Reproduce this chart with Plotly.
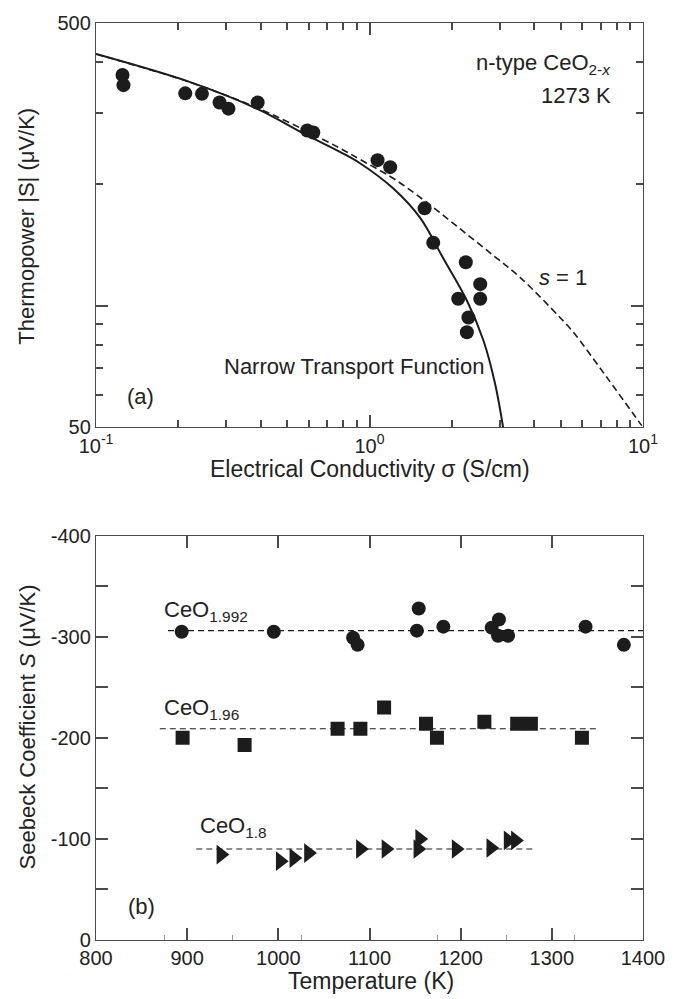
import plotly.graph_objects as go

# ---------------- data: panel (a) ----------------
sigma_pts = [0.125, 0.126, 0.212, 0.244, 0.283, 0.305, 0.390, 0.592, 0.623,
             1.07, 1.19, 1.59, 1.71, 2.25, 2.54, 2.54, 2.11, 2.30, 2.27]
S_pts = [372, 351, 335, 334, 318, 307, 318, 271, 268,
         229, 220, 174, 143, 128, 113, 104, 104, 93.5, 85.9]

narrow_sigma = [0.1, 0.221, 0.387, 0.589, 0.78, 0.923, 1.22, 1.53, 1.86, 2.27, 2.61, 2.88, 3.08]
narrow_S = [419, 357, 307, 264, 240, 225, 195, 165, 131, 103, 82, 64, 50]

s1_sigma = [0.1, 0.22, 0.39, 0.59, 0.78, 0.923, 1.22, 1.62, 2.14, 2.84, 3.55, 4.97, 5.56, 7.36, 9.89]
s1_S = [419, 357, 308, 270, 245, 230, 206.5, 180, 155, 133, 117.5, 93.5, 86, 66.6, 50.5]

# ---------------- data: panel (b) ----------------
T_1992 = [894, 995, 1082, 1087, 1154, 1152, 1181, 1234, 1242, 1241, 1252, 1337, 1379]
S_1992 = [-305, -305, -299, -292, -328, -306, -310, -309, -317, -301, -301, -310, -292]

T_196 = [895, 963, 1065, 1090, 1116, 1162, 1174, 1226, 1262, 1277, 1333]
S_196 = [-200, -193, -209, -209, -230, -214, -200, -216, -214, -214, -200]

T_18 = [937, 1002, 1017, 1033, 1090, 1118, 1153, 1155, 1195, 1233, 1252, 1260]
S_18 = [-84.5, -78, -81, -86, -90, -90, -90, -100, -90, -91, -98.5, -98.5]

fit_1992_T = [879, 1400]
fit_1992_S = [-306, -306]
fit_196_T = [870, 1350]
fit_196_S = [-209, -209]
fit_18_T = [910, 1280]
fit_18_S = [-90, -90]

# axis tick data
x_top_major = [0.1, 1, 10]
x_top_major_text = ["10<sup>-1</sup>", "10<sup>0</sup>", "10<sup>1</sup>"]
x_top_minor = [0.2, 0.3, 0.4, 0.5, 0.6, 0.7, 0.8, 0.9, 2, 3, 4, 5, 6, 7, 8, 9]
y_top_major = [50, 100, 500]
y_top_major_text = ["50", "", "500"]
y_top_minor = [60, 70, 80, 90, 200, 300, 400]

x_bot_ticks = [800, 900, 1000, 1100, 1200, 1300, 1400]
x_bot_minor = [875, 950, 1025, 1175, 1250, 1325]
y_bot_ticks = [0, -50, -100, -150, -200, -250, -300, -350, -400]
y_bot_text = ["0", "", "-100", "", "-200", "", "-300", "", "-400"]

# ---------------- figure ----------------
INK = "#1c1c1c"
AX = "#4a4a4a"
TXT = "#222222"
FONT = "Liberation Sans, Arial, Helvetica, sans-serif"

L, R, T, B = 96, 643, 17, 940
W_, H_ = 681, 999


def PX(px):
    return (px - L) / (R - L)


def PY(py):
    return (B - py) / (B - T)


fig = go.Figure()

fig.add_trace(go.Scatter(x=s1_sigma, y=s1_S, mode="lines", line_shape="spline",
                         line=dict(color=INK, width=1.6, dash="7px,4px"),
                         xaxis="x", yaxis="y", showlegend=False, hoverinfo="skip"))
fig.add_trace(go.Scatter(x=narrow_sigma, y=narrow_S, mode="lines", line_shape="spline",
                         line=dict(color=INK, width=2),
                         xaxis="x", yaxis="y", showlegend=False, hoverinfo="skip"))
fig.add_trace(go.Scatter(x=sigma_pts, y=S_pts, mode="markers",
                         marker=dict(symbol="circle", size=14, color=INK),
                         xaxis="x", yaxis="y", showlegend=False))

for ft, fs in ((fit_1992_T, fit_1992_S), (fit_196_T, fit_196_S), (fit_18_T, fit_18_S)):
    fig.add_trace(go.Scatter(x=ft, y=fs, mode="lines",
                             line=dict(color=INK, width=1.2, dash="6px,4px"),
                             xaxis="x2", yaxis="y2", showlegend=False, hoverinfo="skip"))

fig.add_trace(go.Scatter(x=T_1992, y=S_1992, mode="markers",
                         marker=dict(symbol="circle", size=14, color=INK),
                         xaxis="x2", yaxis="y2", showlegend=False))
fig.add_trace(go.Scatter(x=T_196, y=S_196, mode="markers",
                         marker=dict(symbol="square", size=14, color=INK),
                         xaxis="x2", yaxis="y2", showlegend=False))
fig.add_trace(go.Scatter(x=T_18, y=S_18, mode="markers",
                         marker=dict(symbol="triangle-right", size=17, color=INK),
                         xaxis="x2", yaxis="y2", showlegend=False))

# dummy traces hosting the minor-tick overlay axes
fig.add_trace(go.Scatter(x=[None], y=[None], xaxis="x3", yaxis="y2",
                         showlegend=False, hoverinfo="skip"))
fig.add_trace(go.Scatter(x=[None], y=[None], xaxis="x4", yaxis="y3",
                         showlegend=False, hoverinfo="skip"))

axis_common = dict(showgrid=False, zeroline=False, showline=True, linecolor=AX,
                   linewidth=1.4, ticks="inside", tickcolor=AX, tickwidth=1.6,
                   ticklen=12, mirror="ticks",
                   tickfont=dict(family=FONT, size=20, color=TXT))
minor_common = dict(showgrid=False, zeroline=False, showline=False,
                    ticks="inside", tickcolor=AX, tickwidth=1.5, ticklen=7,
                    mirror="ticks", showticklabels=False, tickmode="array")

top_dom = [PY(424), 1]

fig.update_layout(
    width=W_, height=H_,
    margin=dict(l=L, r=W_ - R, t=T, b=H_ - B),
    paper_bgcolor="white", plot_bgcolor="white",
    font=dict(family=FONT, color=TXT),
    xaxis=dict(type="log", range=[-1, 1], domain=[0, 1], anchor="y",
               tickmode="array", tickvals=x_top_major, ticktext=x_top_major_text,
               **axis_common),
    yaxis=dict(type="log", range=[1.69897, 2.69897], domain=top_dom, anchor="x",
               tickmode="array", tickvals=y_top_major, ticktext=y_top_major_text,
               **axis_common),
    xaxis4=dict(type="log", range=[-1, 1], domain=[0, 1], anchor="y3",
                overlaying="x", side="bottom", tickvals=x_top_minor, **minor_common),
    yaxis3=dict(type="log", range=[1.69897, 2.69897], domain=top_dom, anchor="x4",
                overlaying="y", side="left", tickvals=y_top_minor, **minor_common),
    xaxis2=dict(range=[800, 1400], domain=[0, 1], anchor="y2",
                tickmode="array", tickvals=x_bot_ticks,
                **axis_common),
    yaxis2=dict(range=[0, -400], domain=[0, PY(533)], anchor="x2",
                tickmode="array", tickvals=y_bot_ticks, ticktext=y_bot_text,
                **axis_common),
    xaxis3=dict(range=[800, 1400], overlaying="x2", anchor="y2", side="bottom",
                showgrid=False, zeroline=False, showline=False,
                tickmode="array", tickvals=x_bot_minor, ticks="inside",
                ticklen=5, tickcolor="#9a9a9a", tickwidth=1, showticklabels=False),
)


def ann(text, px, py, xanchor="left", yanchor="middle", angle=0, size=22):
    fig.add_annotation(text=text, x=PX(px), y=PY(py), xref="paper", yref="paper",
                       xanchor=xanchor, yanchor=yanchor, showarrow=False,
                       textangle=angle, font=dict(family=FONT, size=size, color=TXT))


ann("n-type CeO<sub>2-<i>x</i></sub>", 613, 58, xanchor="right")
ann("1273 K", 613, 90, xanchor="right")
ann("<i>s</i> = 1", 537, 273)
ann("Narrow Transport Function", 222, 363)
ann("(a)", 125, 393)
ann("(b)", 126, 906)
ann("CeO<sub>1.992</sub>", 162, 609)
ann("CeO<sub>1.96</sub>", 162, 707)
ann("CeO<sub>1.8</sub>", 198, 826)

ann("Electrical Conductivity σ (S/cm)", 370, 466, xanchor="center", size=23)
ann("Temperature (K)", 371, 981, xanchor="center", size=23)
ann("Thermopower |S| (μV/K)", 27, 222, xanchor="center", angle=-90, size=22)
ann("Seebeck Coefficient <i>S</i> (μV/K)", 27, 726, xanchor="center", angle=-90, size=22)

fig.write_html("out.html")
